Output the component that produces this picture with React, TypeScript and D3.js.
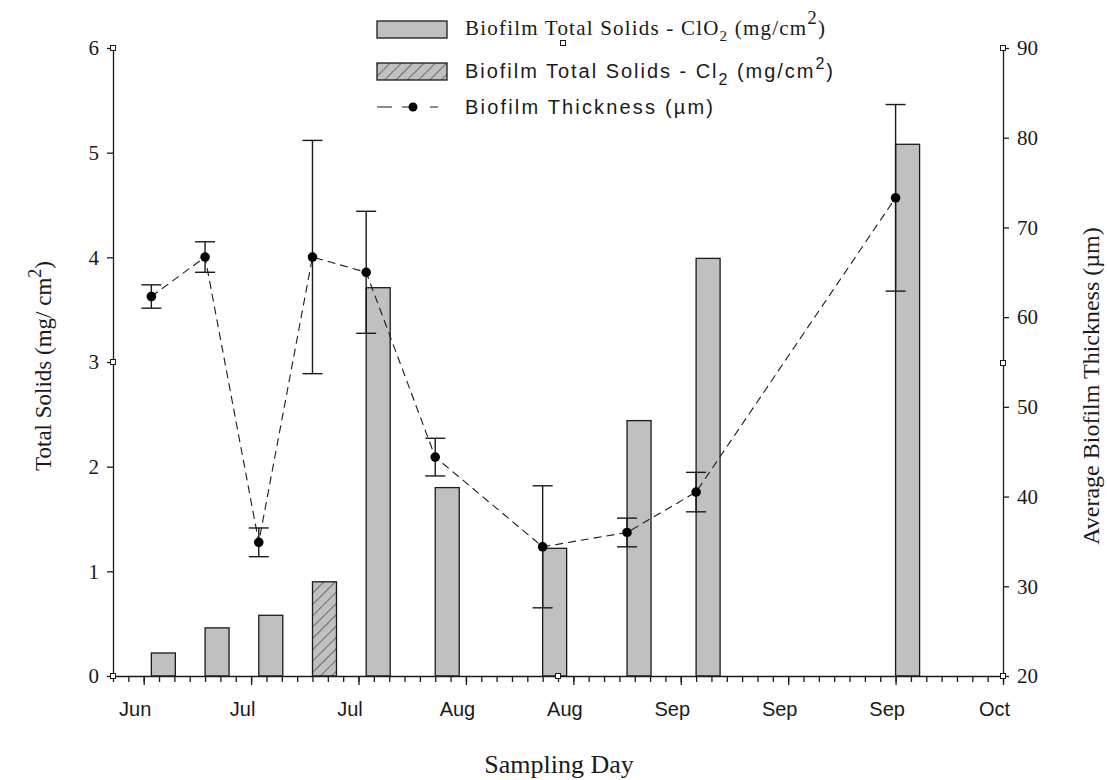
import { useEffect, useRef } from "react";
import * as d3 from "d3";

// sampling days, solids (left axis) and biofilm thickness (right axis)
const sampleDates = ["2007-06-24", "2007-07-01", "2007-07-08", "2007-07-15", "2007-07-22", "2007-07-31", "2007-08-14", "2007-08-25", "2007-09-03", "2007-09-29"];
const disinfectant = ["ClO2", "ClO2", "ClO2", "Cl2", "ClO2", "ClO2", "ClO2", "ClO2", "ClO2", "ClO2"];
const totalSolids = [0.22, 0.46, 0.58, 0.9, 3.71, 1.8, 1.22, 2.44, 3.99, 5.08];
const thickness = [62.3, 66.7, 34.9, 66.7, 65.0, 44.4, 34.4, 36.0, 40.5, 73.3];
const thicknessErr = [1.3, 1.7, 1.6, 13.0, 6.8, 2.1, 6.8, 1.6, 2.2, 10.4];
const solidsTicks = [0, 1, 2, 3, 4, 5, 6];
const thicknessTicks = [20, 30, 40, 50, 60, 70, 80, 90];

const INK = "#1a1a1a";
const SERIF = "'Liberation Serif', 'Times New Roman', serif";
const SANS = "'Liberation Sans', Arial, sans-serif";

export default function App() {
  const ref = useRef<SVGSVGElement>(null);

  useEffect(() => {
    const svg = d3.select(ref.current);
    svg.selectAll("*").remove();

    const left = 113, right = 1003, top = 48, bottom = 676;
    const start = new Date(Date.UTC(2007, 5, 19));
    const end = new Date(Date.UTC(2007, 9, 13));
    const x = d3.scaleUtc().domain([start, end]).range([left, right]);
    const y = d3.scaleLinear().domain([0, 6]).range([bottom, top]);
    const y2 = d3.scaleLinear().domain([20, 90]).range([bottom, top]);

    const rows = sampleDates.map((s, i) => ({
      date: new Date(s + "T00:00:00Z"),
      kind: disinfectant[i],
      solids: totalSolids[i],
      thick: thickness[i],
      err: thicknessErr[i],
    }));

    const defs = svg.append("defs");
    const pat = defs.append("pattern").attr("id", "hatch").attr("patternUnits", "userSpaceOnUse")
      .attr("width", 8).attr("height", 8).attr("patternTransform", "rotate(45)");
    pat.append("rect").attr("width", 8).attr("height", 8).attr("fill", "#c0c0c0");
    pat.append("line").attr("x1", 0).attr("y1", 0).attr("x2", 0).attr("y2", 8).attr("stroke", "#333").attr("stroke-width", 1.2);

    // bars
    const barW = 24;
    svg.append("g").selectAll("rect").data(rows).join("rect")
      .attr("x", (d) => x(d.date)).attr("y", (d) => y(d.solids))
      .attr("width", barW).attr("height", (d) => y(0) - y(d.solids))
      .attr("fill", (d) => (d.kind === "Cl2" ? "url(#hatch)" : "#c0c0c0"))
      .attr("stroke", INK).attr("stroke-width", 1.3);

    // axes
    const fmt = d3.utcFormat("%b");
    const majors = d3.utcDay.range(new Date(Date.UTC(2007, 5, 23)), new Date(Date.UTC(2007, 9, 14)), 14);
    const minors = d3.utcDay.range(start, new Date(Date.UTC(2007, 9, 14)), 2);

    const gxMinor = svg.append("g").attr("transform", `translate(0,${bottom})`)
      .call(d3.axisBottom(x).tickValues(minors).tickSize(6).tickSizeOuter(0).tickFormat(() => ""));
    gxMinor.select(".domain").remove();
    const gx = svg.append("g").attr("transform", `translate(0,${bottom})`)
      .call(d3.axisBottom(x).tickValues(majors).tickSize(9).tickSizeOuter(0).tickPadding(17).tickFormat((d) => fmt(d as Date)));
    gx.selectAll("text").attr("dx", -9).attr("font-family", SANS).attr("font-size", 20).attr("fill", INK);
    gx.select(".domain").attr("d", `M${left - 3},0.5H${right}`);

    const gy = svg.append("g").attr("transform", `translate(${left},0)`)
      .call(d3.axisLeft(y).tickValues(solidsTicks).tickSize(6).tickSizeOuter(0).tickPadding(8).tickFormat(d3.format("d")));
    gy.selectAll("text").attr("font-family", SERIF).attr("font-size", 21).attr("fill", INK);

    const gy2 = svg.append("g").attr("transform", `translate(${right},0)`)
      .call(d3.axisRight(y2).tickValues(thicknessTicks).tickSize(6).tickSizeOuter(0).tickPadding(8).tickFormat(d3.format("d")));
    gy2.selectAll("text").attr("font-family", SERIF).attr("font-size", 21).attr("fill", INK);

    svg.selectAll(".domain, .tick line").attr("stroke", INK).attr("stroke-width", 1.3);

    // thickness line with error bars
    const line = d3.line<any>().x((d) => x(d.date)).y((d) => y2(d.thick));
    svg.append("path").datum(rows).attr("d", line).attr("fill", "none")
      .attr("stroke", INK).attr("stroke-width", 1.1).attr("stroke-dasharray", "8,5");

    const eb = svg.append("g").attr("stroke", INK).attr("stroke-width", 1.4);
    rows.forEach((d) => {
      const cx = x(d.date);
      const hi = y2(d.thick + d.err), lo = y2(d.thick - d.err);
      eb.append("line").attr("x1", cx).attr("x2", cx).attr("y1", hi).attr("y2", lo);
      eb.append("line").attr("x1", cx - 10).attr("x2", cx + 10).attr("y1", hi).attr("y2", hi);
      eb.append("line").attr("x1", cx - 10).attr("x2", cx + 10).attr("y1", lo).attr("y2", lo);
    });
    svg.append("g").selectAll("circle").data(rows).join("circle")
      .attr("cx", (d) => x(d.date)).attr("cy", (d) => y2(d.thick)).attr("r", 4.8).attr("fill", "#000");

    // small selection handles left on the axes
    const handles: [number, number][] = [[left, top], [left, y(3)], [left, bottom], [right, top], [right, 363], [right, bottom], [558, bottom], [563, 43]];
    svg.append("g").selectAll("rect").data(handles).join("rect")
      .attr("x", (d) => d[0] - 2.5).attr("y", (d) => d[1] - 2.5).attr("width", 5).attr("height", 5)
      .attr("fill", "#fff").attr("stroke", INK).attr("stroke-width", 1);

    // axis titles
    const lt = svg.append("text").attr("transform", "translate(51,366) rotate(-90)").attr("text-anchor", "middle")
      .attr("font-family", SERIF).attr("font-size", 23).attr("fill", INK);
    lt.append("tspan").text("Total Solids (mg/ cm");
    lt.append("tspan").attr("dy", -10).attr("font-size", 18).text("2");
    lt.append("tspan").attr("dy", 10).text(")");

    svg.append("text").attr("transform", "translate(1099,386) rotate(-90)").attr("text-anchor", "middle")
      .attr("font-family", SERIF).attr("font-size", 24).attr("fill", INK).text("Average Biofilm Thickness (\u00b5m)");

    svg.append("text").attr("x", 559).attr("y", 773).attr("text-anchor", "middle")
      .attr("font-family", SERIF).attr("font-size", 26).attr("fill", INK).text("Sampling Day");

    // legend
    const lg = svg.append("g");
    lg.append("rect").attr("x", 377).attr("y", 21).attr("width", 70).attr("height", 17).attr("fill", "#c0c0c0").attr("stroke", INK).attr("stroke-width", 1.3);
    lg.append("rect").attr("x", 377).attr("y", 63).attr("width", 70).attr("height", 17).attr("fill", "url(#hatch)").attr("stroke", INK).attr("stroke-width", 1.3);
    lg.append("line").attr("x1", 377).attr("x2", 447).attr("y1", 107).attr("y2", 107)
      .attr("stroke", INK).attr("stroke-width", 1.1).attr("stroke-dasharray", "15,10,8,20,8,10,15");
    lg.append("circle").attr("cx", 413).attr("cy", 107).attr("r", 4.5).attr("fill", "#000");

    const t1 = lg.append("text").attr("x", 465).attr("y", 35).attr("font-family", SERIF).attr("font-size", 21)
      .attr("textLength", 360).attr("lengthAdjust", "spacing").attr("fill", INK);
    t1.append("tspan").text("Biofilm Total Solids - ClO");
    t1.append("tspan").attr("dy", 6).attr("font-size", 15).text("2");
    t1.append("tspan").attr("dy", -6).text(" (mg/cm");
    t1.append("tspan").attr("dy", -11).attr("font-size", 19).text("2");
    t1.append("tspan").attr("dy", 11).text(")");

    const t2 = lg.append("text").attr("x", 465).attr("y", 78).attr("font-family", SANS).attr("font-size", 20)
      .attr("textLength", 368).attr("lengthAdjust", "spacing").attr("fill", INK);
    t2.append("tspan").text("Biofilm Total Solids - Cl");
    t2.append("tspan").attr("dy", 7).attr("font-size", 16).text("2");
    t2.append("tspan").attr("dy", -7).text(" (mg/cm");
    t2.append("tspan").attr("dy", -9).attr("font-size", 16).text("2");
    t2.append("tspan").attr("dy", 9).text(")");

    lg.append("text").attr("x", 465).attr("y", 114).attr("font-family", SANS).attr("font-size", 20)
      .attr("textLength", 248).attr("lengthAdjust", "spacing").attr("fill", INK).text("Biofilm Thickness (\u00b5m)");
  }, []);

  return (
    <svg ref={ref} width={1107} height={780}
      style={{ position: "absolute", left: 0, top: 0, background: "#fff" }} />
  );
}
